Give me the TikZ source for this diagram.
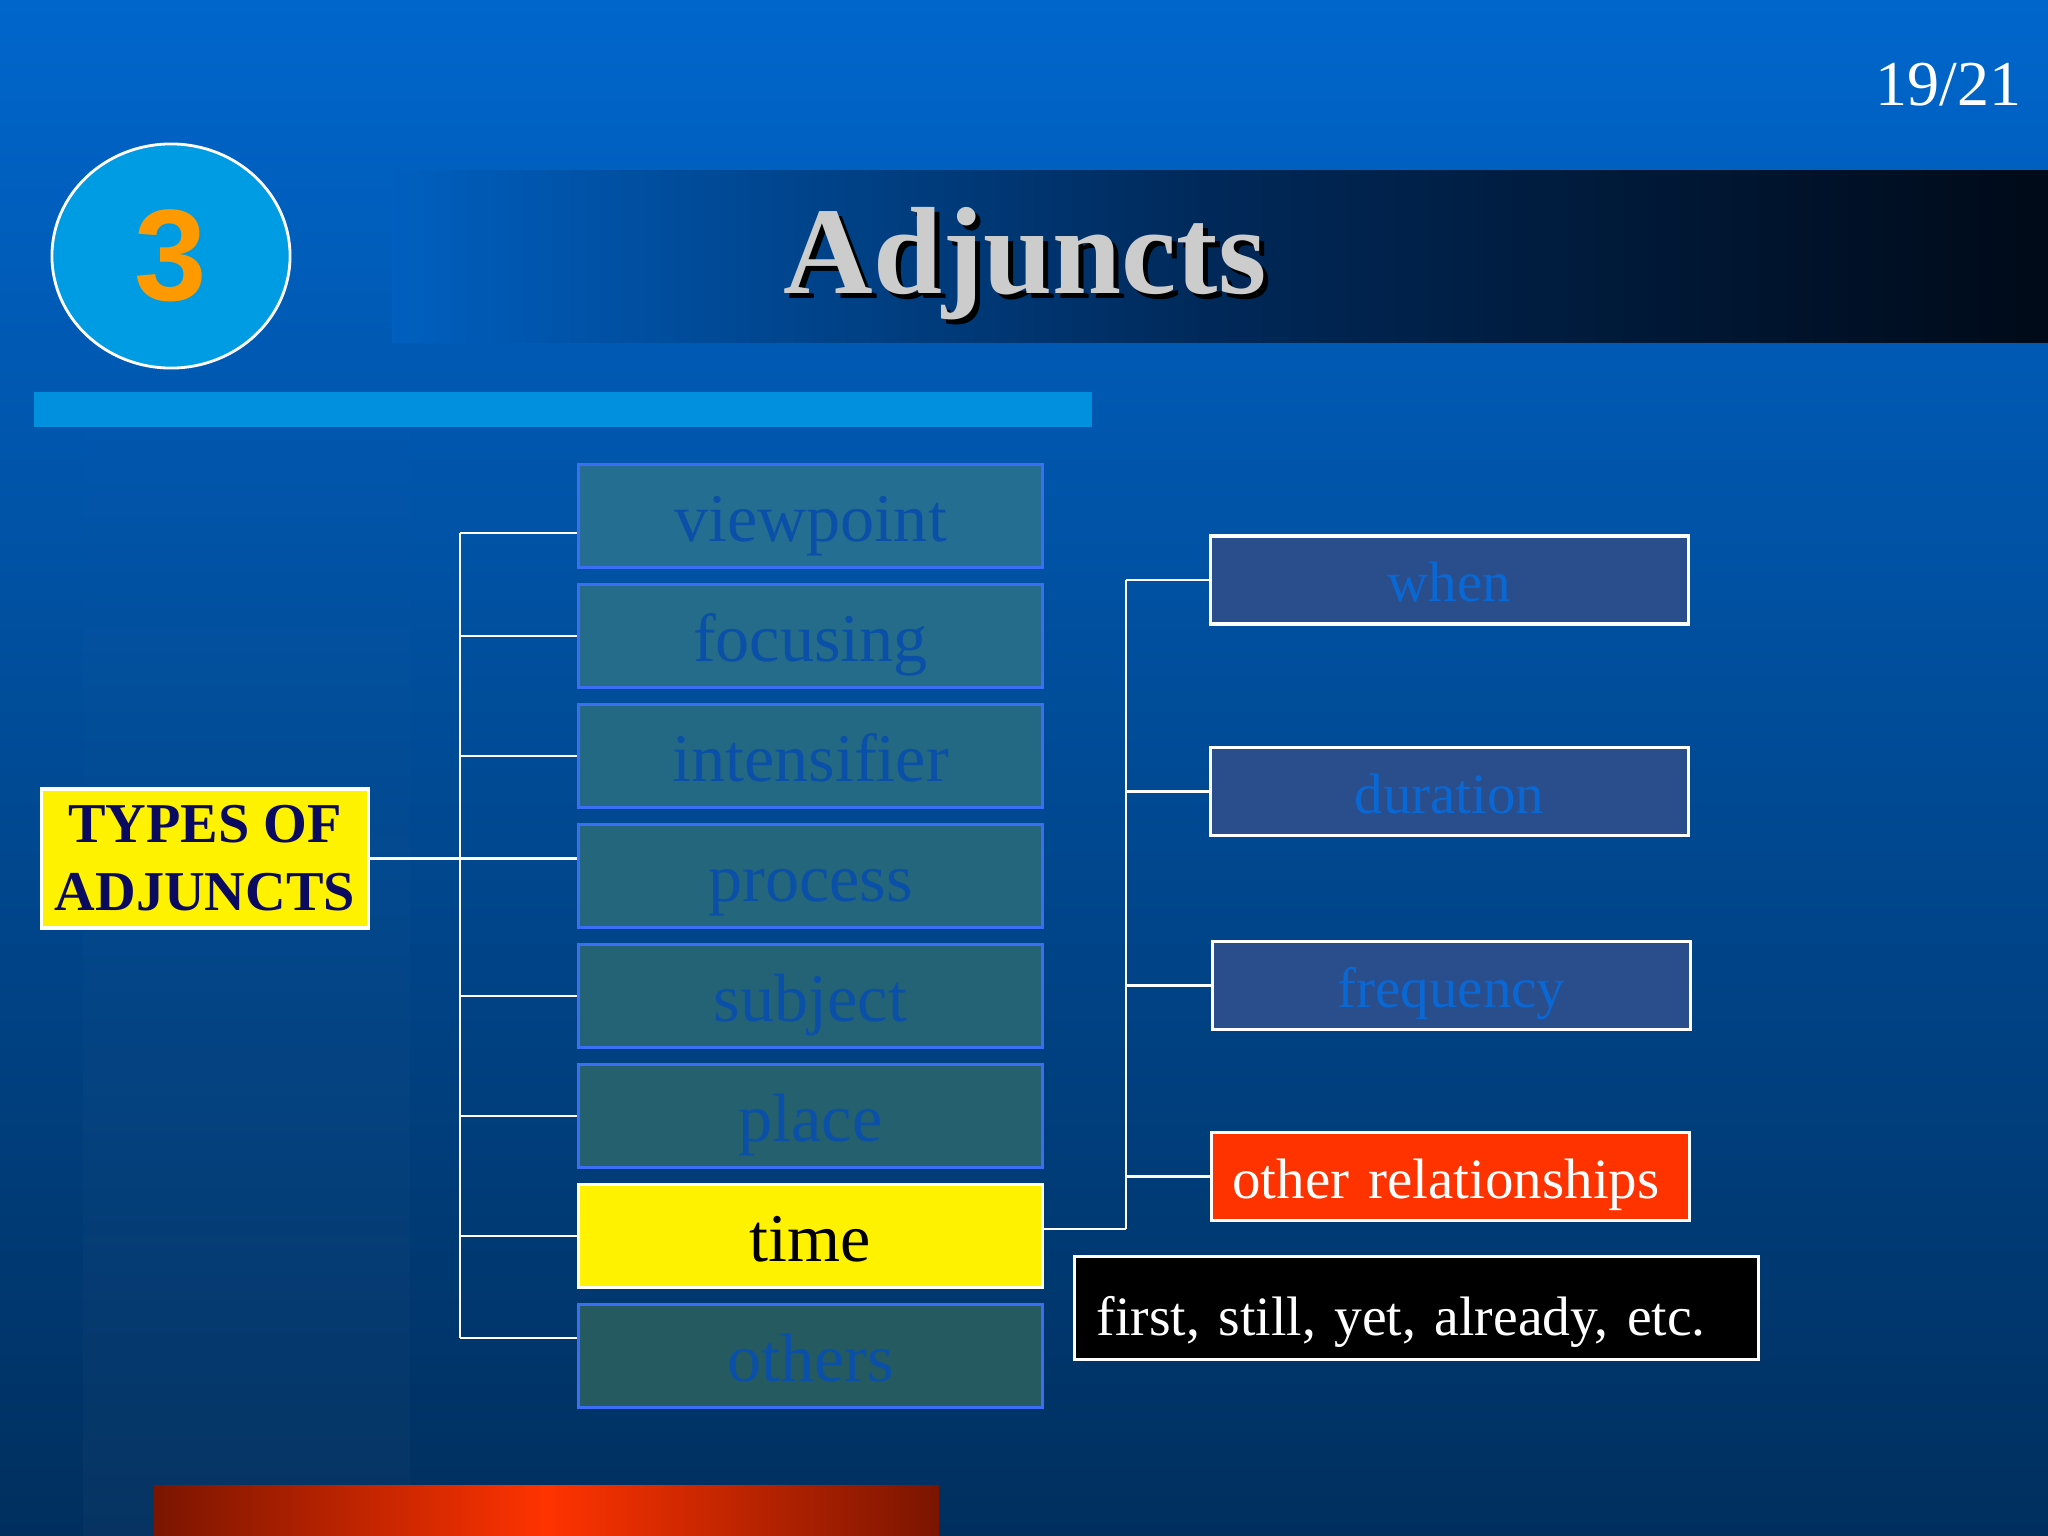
\documentclass[tikz,border=0pt]{standalone}
\usepackage{fontspec}
\setmainfont{Liberation Serif}
\newfontfamily\digitfont{Liberation Sans}
\usetikzlibrary{fadings,shapes.geometric}
\definecolor{bgtop}{HTML}{0066CC}
\definecolor{bgbot}{HTML}{002F5E}
\definecolor{kindtop}{HTML}{246F91}
\definecolor{kindbot}{HTML}{245A60}
\definecolor{kindedge}{HTML}{3A6EF5}
\definecolor{kindtext}{HTML}{0B50A8}
\definecolor{timefill}{HTML}{2A4D8C}
\definecolor{timetext}{HTML}{0A68D5}
\definecolor{redfill}{HTML}{FF3300}
\definecolor{darkred}{HTML}{7A1500}
\definecolor{navytext}{HTML}{0A0A60}
\definecolor{circfill}{HTML}{009CE3}
\definecolor{barblue}{HTML}{0090DD}
\definecolor{orangenum}{HTML}{FF9900}
\definecolor{bandmid}{HTML}{002858}
\definecolor{bandend}{HTML}{000A18}

\begin{document}
\begin{tikzpicture}[x=0.01cm, y=-0.01cm,
  link/.style={draw=white, line width=0.8pt},
  kindbox/.style={draw=kindedge, line width=0.9pt, minimum width=4.63cm,
    minimum height=1.035cm, inner sep=0pt, text height=0.65cm, text depth=0.15cm,
    text=kindtext, font=\fontsize{19.4}{23}\selectfont},
  subbox/.style={draw=white, line width=0.9pt, fill=timefill, minimum width=4.78cm,
    minimum height=0.88cm, inner sep=0pt, text height=0.58cm, text depth=0.15cm,
    text=timetext, font=\fontsize{16.2}{19}\selectfont}]

\useasboundingbox (0,0) rectangle (2048,1536);
\shade[top color=bgtop, bottom color=bgbot] (0,0) rectangle (2048,1536);
\fill[white, opacity=0.025, path fading=north] (83,330) rectangle (410,1536);

% heading
\shade[left color=bgtop!88!bgbot, right color=bandend, middle color=bandmid]
  (392,170) rectangle (2048,342);
\fill[barblue] (34,392) rectangle (1092,427);
\node[draw=white, line width=0.8pt, fill=circfill, ellipse, minimum width=2.38cm, minimum height=2.24cm,
  text=orangenum, font=\digitfont\bfseries\fontsize{37}{40}\selectfont] (num) at (171,256) {3};
\node[anchor=base, text=black, font=\bfseries\fontsize{35.3}{40}\selectfont] (titleshadow) at (1030,298) {Adjuncts};
\node[anchor=base, text={rgb,255:red,204;green,204;blue,204}, font=\bfseries\fontsize{35.3}{40}\selectfont] (title) at (1025,293) {Adjuncts};
\node[anchor=base east, inner sep=0pt, text=white, font=\fontsize{18.2}{22}\selectfont] (page) at (2022,105) {19/21};

% tree
\node[draw=white, line width=0.9pt, fill=yellow, minimum width=3.26cm, minimum height=1.39cm,
  inner sep=0pt, align=center, text=navytext, font=\bfseries\fontsize{16}{19.3}\selectfont]
  (types) at (205,858.5) {TYPES OF\\ADJUNCTS};

\foreach \lab/\i in {viewpoint/1,focusing/2,intensifier/3,process/4,subject/5,place/6,others/8}
{
  \pgfmathtruncatemacro{\p}{100-(\i-1)*100/7}
  \node[kindbox, fill=kindtop!\p!kindbot] (l\i) at (810.5,{516+120*(\i-1)}) {\lab};
}
\node[kindbox, draw=white, fill=yellow, text=black] (l7) at (810.5,1236) {time};

\coordinate (ltop) at (460,533);
\coordinate (lbot) at (460,1338);
\draw[link] (ltop) -- (lbot);
\draw[link] (ltop) -- (ltop -| l1.west);
\draw[link] (lbot) -- (lbot -| l8.west);
\foreach \i in {2,3,5,6,7}
{
  \draw[link] (l\i.west) -- (l\i.west -| ltop);
}
\draw[link] (types.east) -- (types.east -| l4.west);

\node[subbox] (r1) at (1449.5,580) {when};
\node[subbox] (r2) at (1449.5,791.6) {duration};
\node[subbox] (r3) at (1451.5,985.6) {frequency};
\node[subbox, fill=redfill, text=white, text width=4.36cm, align=left] (r4) at (1450.4,1176.5) {other relationships};

\coordinate (rbot) at (1126,1229);
\draw[link] (rbot) -- (rbot -| l7.east);
\draw[link] (rbot) -- (rbot |- r1.west);
\foreach \i in {1,...,4}
{
  \draw[link] (r\i.west) -- (r\i.west -| rbot);
}

\node[draw=white, line width=0.9pt, fill=black, minimum width=6.83cm, minimum height=1.03cm,
  inner xsep=0.22cm, inner ysep=0pt, text width=6.39cm, align=left, text height=0.69cm, text depth=0.15cm,
  text=white, font=\fontsize{15.8}{19}\selectfont] (examples) at (1416.5,1308) {first, still, yet, already, etc.};

\shade[left color=darkred, right color=darkred, middle color=redfill] (154,1485) rectangle (939,1536);

\end{tikzpicture}
\end{document}
